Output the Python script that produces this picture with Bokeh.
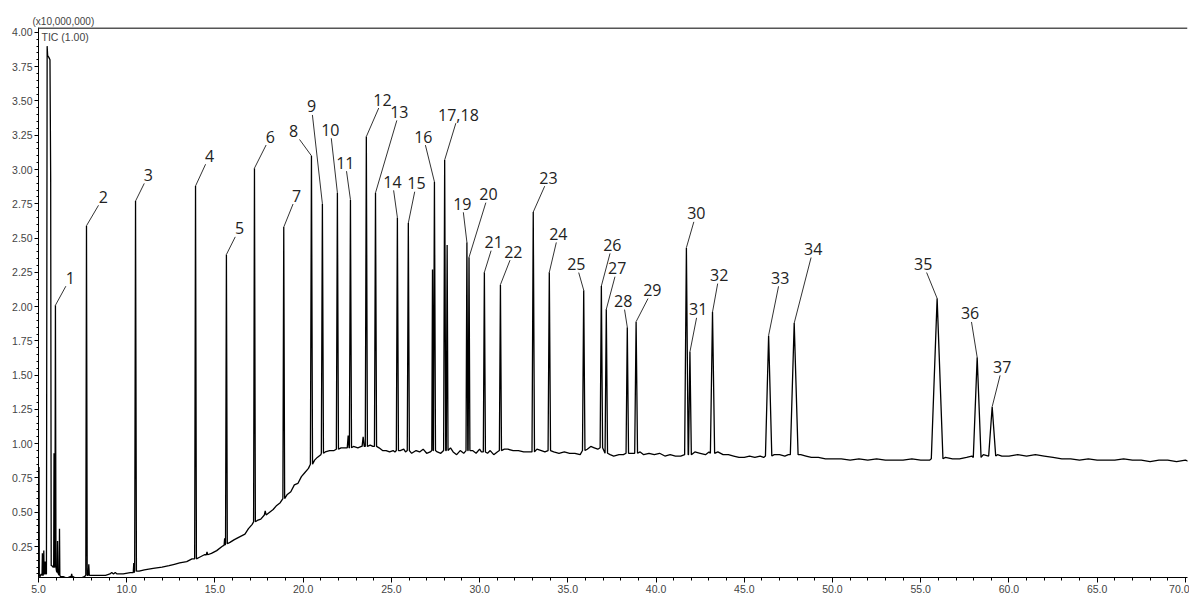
import math
from bokeh.plotting import figure
from bokeh.models import (Range1d, Span, Label, ColumnDataSource, SingleIntervalTicker,
                          NumeralTickFormatter)
from bokeh.embed import file_html
from bokeh.resources import INLINE
from bokeh.core.properties import value

# ---------------- data ----------------
# baseline of the TIC trace (time in min, intensity in x10,000,000)
bl_t = [5.00, 5.08, 5.15, 5.26, 5.34, 5.42,
        5.76, 5.82, 6.02, 6.13, 6.25, 6.40, 6.60, 6.80, 6.95, 7.10, 7.40, 7.60,
        7.90, 8.30, 8.80, 9.05, 9.15, 9.25, 9.35, 9.45, 9.80, 10.20,
        10.70, 11.00, 11.50, 12.00, 12.40, 12.70, 13.00, 13.40, 13.70,
        14.10, 14.40, 14.80, 15.10, 15.40,
        15.85, 16.10, 16.40, 16.70, 16.90, 17.10,
        17.40, 17.60, 18.10, 18.30, 18.50, 18.70,
        19.10, 19.30, 19.50, 19.70, 19.90, 20.10, 20.30,
        20.65, 20.80, 21.00, 21.25, 21.50, 21.75,
        22.15, 22.40, 22.85, 23.10, 23.30,
        23.80, 23.95, 24.30, 24.50, 24.70, 24.90, 25.10, 25.20,
        25.50, 25.70, 25.80, 26.15, 26.40, 26.60, 26.80, 27.00, 27.20,
        27.60, 27.80, 28.35, 28.50, 28.70, 28.90, 29.10,
        29.60, 29.80, 30.00, 30.10, 30.45, 30.60, 30.80, 31.00,
        31.40, 31.60, 31.90, 32.20, 32.50, 32.80,
        33.25, 33.50, 33.70, 34.20, 34.50, 34.80, 35.10, 35.40, 35.70,
        36.10, 36.30, 36.50, 36.70, 37.40, 37.60, 37.90, 38.15, 38.60,
        39.10, 39.30, 39.60, 39.90, 40.20, 40.50, 40.80, 41.10, 41.40,
        42.20, 42.50, 42.80, 43.00, 43.50, 43.80, 44.10, 44.40, 44.70, 45.00,
        45.30, 45.60, 45.90, 46.10, 46.70, 47.00, 47.30, 47.50,
        48.20, 48.50, 48.80, 49.20, 49.60, 50.00, 50.50, 51.00, 51.50, 52.00,
        52.50, 53.00, 53.50, 54.00, 54.50, 55.00, 55.50,
        56.40, 56.80, 57.20, 57.60, 57.90, 58.55,
        59.35, 59.60, 60.00, 60.50, 61.00, 61.50, 62.00, 62.50, 63.00, 63.50,
        64.00, 64.50, 65.00, 65.50, 66.00, 66.50, 67.00, 67.50, 68.00, 68.50,
        69.00, 69.50, 70.00, 70.20]
bl_v = [0.04, 0.03, 0.05, 0.04, 0.05, 0.05,
        0.11, 0.10, 0.07, 0.05, 0.03, 0.03, 0.02, 0.03, 0.03, 0.02, 0.02, 0.03,
        0.04, 0.04, 0.04, 0.05, 0.06, 0.05, 0.06, 0.05, 0.05, 0.06,
        0.07, 0.08, 0.09, 0.10, 0.11, 0.12, 0.13, 0.14, 0.16,
        0.17, 0.19, 0.20, 0.22, 0.25,
        0.28, 0.30, 0.32, 0.34, 0.38, 0.41,
        0.44, 0.45, 0.50, 0.52, 0.55, 0.57,
        0.63, 0.65, 0.70, 0.71, 0.76, 0.79, 0.82,
        0.88, 0.90, 0.92, 0.94, 0.95, 0.95,
        0.97, 0.97, 0.98, 0.97, 0.98,
        0.99, 0.98, 0.97, 0.95, 0.95, 0.94, 0.95, 0.94,
        0.95, 0.96, 0.94, 0.93, 0.95, 0.94, 0.96, 0.93, 0.94,
        0.94, 0.93, 0.97, 0.94, 0.92, 0.95, 0.93,
        0.95, 0.93, 0.96, 0.94, 0.93, 0.95, 0.92, 0.94,
        0.96, 0.96, 0.95, 0.95, 0.94, 0.94,
        0.96, 0.95, 0.94, 0.94, 0.93, 0.94, 0.93, 0.93, 0.92,
        0.96, 0.98, 0.97, 0.96, 0.92, 0.91, 0.92, 0.92, 0.93,
        0.94, 0.92, 0.93, 0.92, 0.93, 0.91, 0.92, 0.91, 0.91,
        0.94, 0.93, 0.92, 0.94, 0.94, 0.92, 0.92, 0.91, 0.90, 0.90,
        0.91, 0.90, 0.91, 0.90, 0.92, 0.92, 0.91, 0.92,
        0.92, 0.91, 0.90, 0.90, 0.89, 0.89, 0.89, 0.88, 0.89, 0.88,
        0.89, 0.88, 0.88, 0.88, 0.89, 0.88, 0.88,
        0.90, 0.89, 0.89, 0.90, 0.91, 0.92,
        0.92, 0.91, 0.91, 0.92, 0.91, 0.92, 0.91, 0.90, 0.89, 0.89,
        0.88, 0.89, 0.88, 0.88, 0.88, 0.89, 0.88, 0.88, 0.87, 0.88,
        0.88, 0.87, 0.88, 0.87]

# numbered peaks 1..37: retention time, apex, half base width, foot level
peak_rt = [5.96, 7.72, 10.50, 13.90, 15.65, 17.24, 18.90, 20.47, 21.09, 21.94,
           22.68, 23.58, 24.10, 25.34, 25.96, 27.44, 28.02, 28.16, 29.28, 29.40,
           30.27, 31.18, 33.04, 33.95, 35.90, 36.90, 37.18, 38.37, 38.87, 41.72,
           41.92, 43.20, 46.38, 47.83, 55.93, 58.20, 59.05]
peak_h = [2.01, 2.59, 2.77, 2.88, 2.38, 3.01, 2.58, 3.10, 2.75, 2.83,
          2.78, 3.24, 2.83, 2.65, 2.61, 2.91, 3.07, 2.45, 2.47, 2.36,
          2.25, 2.16, 2.69, 2.25, 2.12, 2.15, 1.98, 1.85, 1.89, 2.43,
          1.67, 1.96, 1.79, 1.88, 2.06, 1.63, 1.27]
peak_w = [0.03, 0.04, 0.05, 0.05, 0.05, 0.05, 0.05, 0.06, 0.06, 0.06,
          0.06, 0.06, 0.06, 0.06, 0.06, 0.06, 0.06, 0.05, 0.05, 0.05,
          0.06, 0.06, 0.07, 0.07, 0.07, 0.07, 0.07, 0.07, 0.08, 0.10,
          0.08, 0.12, 0.18, 0.22, 0.33, 0.22, 0.20]
peak_base = [0.10, 0.04, 0.07, 0.16, 0.27, 0.43, 0.60, 0.85, 0.93, 0.96,
             0.97, 0.98, 0.98, 0.95, 0.95, 0.95, 0.95, 0.95, 0.95, 0.95,
             0.94, 0.95, 0.94, 0.95, 0.95, 0.97, 0.93, 0.93, 0.93, 0.92,
             0.92, 0.93, 0.91, 0.92, 0.89, 0.90, 0.91]

# un-numbered small peaks / shoulders
minor_rt = [5.03, 5.22, 5.30, 5.38, 5.88, 6.08, 6.19, 6.88, 7.85, 10.40,
            14.55, 15.55, 17.85, 22.55, 23.40, 27.33]
minor_h = [0.83, 0.20, 0.22, 0.14, 0.93, 0.29, 0.38, 0.05, 0.12, 0.13,
           0.21, 0.31, 0.51, 1.06, 1.05, 2.27]
minor_w = [0.015, 0.02, 0.02, 0.02, 0.02, 0.02, 0.02, 0.03, 0.03, 0.03,
           0.04, 0.03, 0.05, 0.05, 0.06, 0.04]
minor_base = [0.04, 0.04, 0.05, 0.05, 0.10, 0.06, 0.04, 0.03, 0.04, 0.06,
              0.19, 0.26, 0.48, 0.97, 0.98, 0.95]

# solvent peak outline
solv_t = [5.45, 5.49, 5.52, 5.58, 5.65, 5.69, 5.72]
solv_v = [0.05, 3.90, 3.83, 3.82, 3.80, 2.93, 0.11]

# peak labels (text, position) and the peak each one points to
label_text = ["1", "2", "3", "4", "5", "6", "7", "8", "9", "10", "11", "12", "13",
              "14", "15", "16", "17,18", "19", "20", "21", "22", "23", "24", "25",
              "26", "27", "28", "29", "30", "31", "32", "33", "34", "35", "36", "37"]
label_peak = [1, 2, 3, 4, 5, 6, 7, 8, 9, 10, 11, 12, 13, 14, 15, 16, 17, 19, 20, 21,
              22, 23, 24, 25, 26, 27, 28, 29, 30, 31, 32, 33, 34, 35, 36, 37]
label_t = [6.81, 8.68, 11.23, 14.69, 16.39, 18.14, 19.62, 19.45, 20.47, 21.54,
           22.39, 24.49, 25.45, 25.06, 26.42, 26.81, 28.80, 29.02, 30.50, 30.80,
           31.91, 33.90, 34.46, 35.48, 37.52, 37.80, 38.14, 39.79, 42.28, 42.39,
           43.58, 47.04, 48.91, 55.14, 57.80, 59.62]
label_v = [2.21, 2.80, 2.96, 3.10, 2.57, 3.24, 2.81, 3.28, 3.46, 3.29,
           3.05, 3.51, 3.42, 2.91, 2.90, 3.24, 3.40, 2.75, 2.82, 2.47,
           2.40, 2.94, 2.53, 2.31, 2.45, 2.28, 2.04, 2.12, 2.68, 1.98,
           2.23, 2.21, 2.42, 2.31, 1.95, 1.56]

# ---------------- build trace ----------------
X0, X1 = 5.0, 70.12
Y0, Y1 = 0.024, 4.036

windows = []
pts = []
for rt, h, w, b in list(zip(peak_rt, peak_h, peak_w, peak_base)) + \
        list(zip(minor_rt, minor_h, minor_w, minor_base)):
    pts += [(rt - w, b), (rt, h), (rt + w, b)]
    windows.append((rt - w, rt + w))
pts += list(zip(solv_t, solv_v))
windows.append((solv_t[0], solv_t[-1]))
for t, v in zip(bl_t, bl_v):
    if not any(a <= t <= b for a, b in windows):
        pts.append((t, v))
pts.sort(key=lambda q: q[0])
trace = ColumnDataSource(dict(t=[q[0] for q in pts], v=[q[1] for q in pts]))

W, H = 1189, 599
p = figure(width=W, height=H, output_backend="svg", toolbar_location=None,
           x_range=Range1d(X0, X1), y_range=Range1d(Y0, Y1),
           min_border_left=38, min_border_right=2, min_border_top=27,
           min_border_bottom=22)
p.outline_line_color = None
p.xgrid.visible = False
p.ygrid.visible = False
p.background_fill_color = "white"
p.border_fill_color = "white"

p.title.text = "(x10,000,000)"
p.title.text_font = "Liberation Sans"
p.title.text_font_size = "10px"
p.title.text_font_style = "normal"
p.title.text_color = "#444444"
p.title.align = "left"
p.title.offset = -6
p.title.standoff = 1

p.line("t", "v", source=trace, line_color="black", line_width=1.3)

# leaders
px_t = 1149.0 / (X1 - X0)
px_v = 550.0 / (Y1 - Y0)
x0s, y0s, x1s, y1s = [], [], [], []
for txt, pk, lt, lv in zip(label_text, label_peak, label_t, label_v):
    at, av = peak_rt[pk - 1], peak_h[pk - 1]
    dx, dy = (at - lt) * px_t, (av - lv) * px_v
    d = math.hypot(dx, dy)
    ux, uy = dx / d, dy / d
    hw, hh = 4.6 * len(txt) + 1, 7.5
    s = min(hw / abs(ux) if abs(ux) > 1e-6 else 1e9,
            hh / abs(uy) if abs(uy) > 1e-6 else 1e9) + 1
    x0s.append(lt + ux * s / px_t)
    y0s.append(lv + uy * s / px_v)
    x1s.append(at)
    y1s.append(av)
p.segment(x0=x0s, y0=y0s, x1=x1s, y1=y1s, line_color="#333333", line_width=1)

lab_src = ColumnDataSource(dict(x=label_t, y=label_v, text=label_text))
p.text(x="x", y="y", text="text", source=lab_src, text_font=value("Open Sans"),
       text_font_size="16px", text_color="#222222", text_align="center",
       text_baseline="middle")

# top frame line
p.add_layout(Span(location=Y1 - 0.004, dimension="width", line_color="#555555",
                  line_width=2))

# axes
for ax in (p.xaxis[0], p.yaxis[0]):
    ax.axis_line_color = "black"
    ax.major_tick_line_color = "black"
    ax.minor_tick_line_color = "black"
    ax.major_tick_in = 0
    ax.minor_tick_in = 0
    ax.major_label_text_font = "Liberation Sans"
    ax.major_label_text_font_size = "10.5px"
    ax.major_label_text_color = "#444444"
    ax.major_label_standoff = 2
p.xaxis.ticker = SingleIntervalTicker(interval=5, num_minor_ticks=5)
p.xaxis.formatter = NumeralTickFormatter(format="0.0")
p.xaxis.major_tick_out = 5
p.xaxis.minor_tick_out = 3
p.yaxis.ticker = SingleIntervalTicker(interval=0.25, num_minor_ticks=5)
p.yaxis.formatter = NumeralTickFormatter(format="0.00")
p.yaxis.major_tick_out = 4
p.yaxis.minor_tick_out = 2

p.add_layout(Label(x=X0, y=Y1, x_offset=3, y_offset=-3, text="TIC (1.00)",
                   text_font="Liberation Sans", text_font_size="10.5px",
                   text_color="#444444", text_baseline="top", text_align="left"))

open("out.html", "w").write(file_html(p, INLINE))
